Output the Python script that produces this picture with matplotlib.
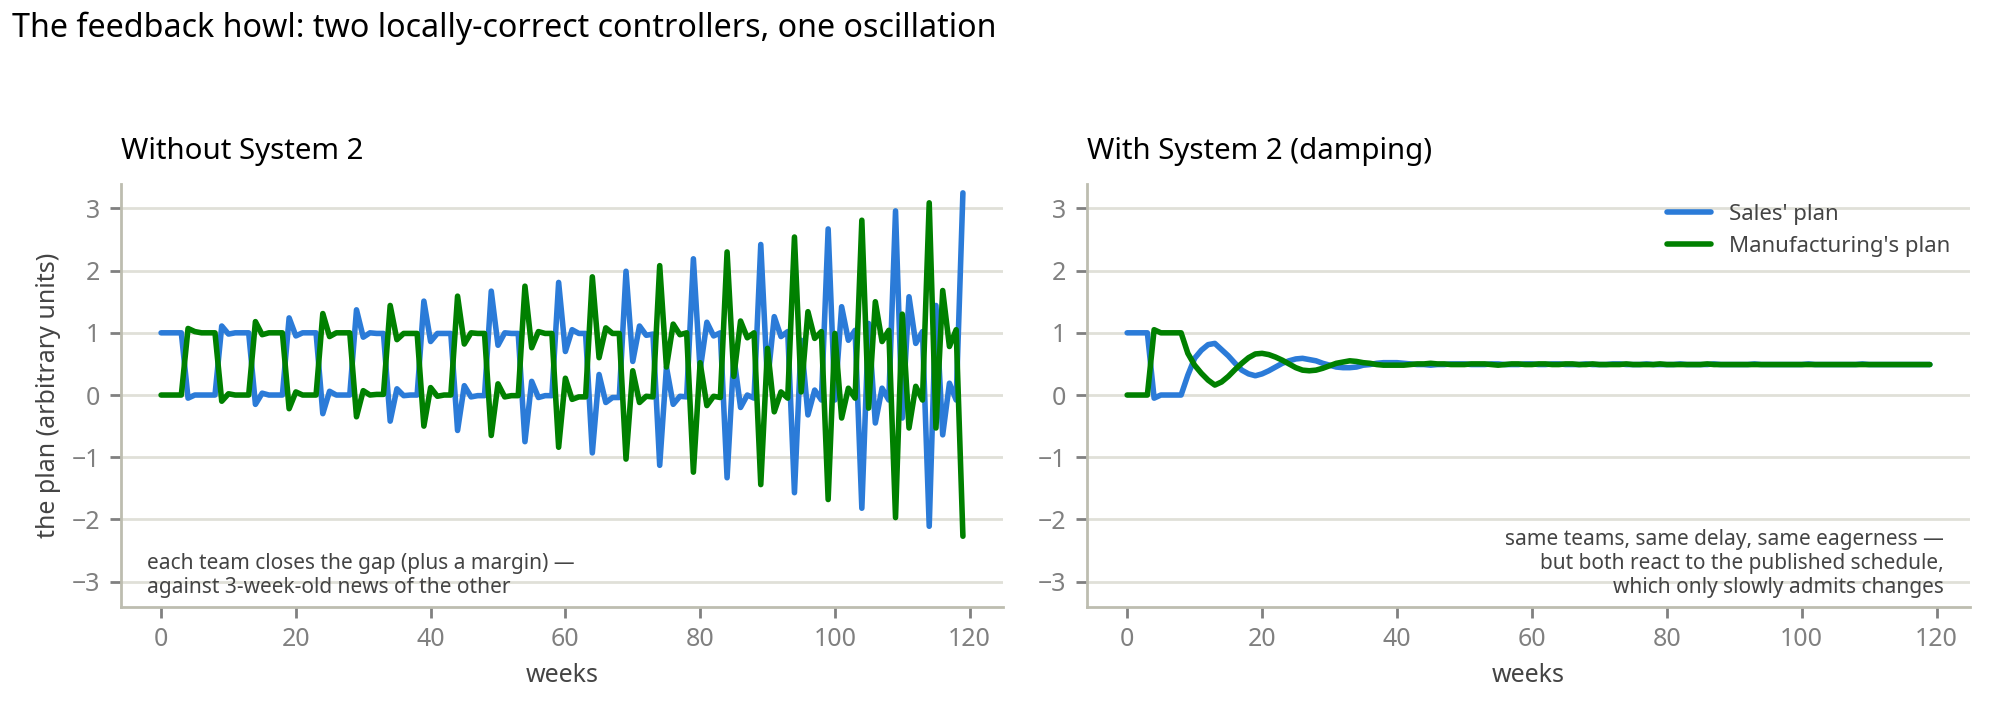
import numpy as np
import matplotlib
matplotlib.use("Agg")
import matplotlib.pyplot as plt

plt.rcParams['font.family'] = ['Noto Sans', 'DejaVu Sans']

# weeks 0..119
weeks = np.arange(120)

# Without System 2
salesA = [1.00, 1.00, 1.00, 1.00,
          -0.05, 0.00, 0.00, 0.00, 0.00,
          1.11, 0.98, 1.00, 1.00, 1.00,
          -0.15, 0.03, 0.00, 0.00, 0.00,
          1.24, 0.95, 1.00, 1.00, 1.00,
          -0.30, 0.06, 0.00, 0.00, 0.00,
          1.37, 0.93, 1.00, 0.99, 0.99,
          -0.42, 0.10, -0.01, 0.00, 0.00,
          1.51, 0.86, 0.99, 0.99, 0.99,
          -0.57, 0.15, -0.03, -0.01, -0.01,
          1.67, 0.80, 1.00, 0.99, 0.99,
          -0.75, 0.22, -0.04, -0.01, -0.01,
          1.81, 0.70, 1.05, 0.99, 0.99,
          -0.93, 0.33, -0.12, -0.04, -0.04,
          1.99, 0.54, 1.11, 0.96, 0.98,
          -1.13, 0.45, -0.15, -0.02, -0.03,
          2.19, 0.40, 1.17, 0.95, 1.00,
          -1.33, 0.62, -0.20, 0.00, -0.05,
          2.42, 0.20, 1.26, 0.94, 1.02,
          -1.57, 0.88, -0.32, 0.08, -0.08,
          2.67, -0.08, 1.42, 0.88, 1.04,
          -1.82, 1.15, -0.45, 0.11, -0.08,
          2.96, -0.37, 1.58, 0.83, 1.02,
          -2.11, 1.44, -0.64, 0.19, -0.08,
          3.25]

manufA = [0.00, 0.00, 0.00, 0.00,
          1.07, 1.02, 1.00, 1.00, 1.00,
          -0.10, 0.02, 0.00, 0.00, 0.00,
          1.18, 0.97, 1.00, 1.00, 1.00,
          -0.22, 0.05, 0.00, 0.00, 0.00,
          1.31, 0.94, 1.00, 1.00, 1.00,
          -0.35, 0.07, 0.00, 0.01, 0.01,
          1.44, 0.89, 0.99, 0.99, 0.99,
          -0.50, 0.12, -0.02, 0.00, 0.00,
          1.59, 0.82, 1.00, 0.99, 0.99,
          -0.65, 0.18, -0.03, -0.01, -0.01,
          1.75, 0.76, 1.02, 0.99, 0.99,
          -0.84, 0.27, -0.07, -0.03, -0.03,
          1.90, 0.60, 1.08, 0.99, 0.99,
          -1.03, 0.39, -0.12, -0.02, -0.03,
          2.08, 0.45, 1.14, 0.97, 1.00,
          -1.24, 0.52, -0.17, -0.02, -0.04,
          2.30, 0.30, 1.19, 0.92, 1.00,
          -1.44, 0.75, -0.27, 0.05, -0.05,
          2.54, 0.05, 1.34, 0.91, 1.02,
          -1.68, 0.99, -0.37, 0.11, -0.05,
          2.81, -0.21, 1.50, 0.86, 1.04,
          -1.97, 1.30, -0.53, 0.14, -0.08,
          3.09, -0.53, 1.68, 0.78, 1.05,
          -2.27]

# With System 2 (damping)
salesB = [1.00, 1.00, 1.00, 1.00, -0.05, 0.00, 0.00, 0.00, 0.00,
          0.32, 0.59, 0.72, 0.81, 0.83, 0.73, 0.63, 0.51, 0.40, 0.34, 0.31,
          0.34, 0.39, 0.45, 0.51, 0.55, 0.58, 0.59, 0.57, 0.55, 0.51,
          0.48, 0.45, 0.44, 0.44, 0.45, 0.48, 0.49, 0.51, 0.52, 0.52,
          0.52, 0.51, 0.50,
          0.49, 0.49, 0.48, 0.49, 0.49, 0.50, 0.50, 0.50, 0.49, 0.49,
          0.49, 0.50, 0.50, 0.49, 0.49, 0.49, 0.50, 0.50, 0.49, 0.49,
          0.50, 0.50, 0.49, 0.49, 0.49, 0.50, 0.49, 0.49, 0.49, 0.50,
          0.50, 0.49, 0.49, 0.49, 0.50, 0.49, 0.49, 0.49, 0.49, 0.50,
          0.49, 0.49, 0.49, 0.49, 0.50, 0.49, 0.49, 0.49, 0.49, 0.49,
          0.50, 0.49, 0.49, 0.49, 0.49, 0.49, 0.49, 0.49, 0.50, 0.49,
          0.49, 0.49, 0.49, 0.49, 0.49, 0.49, 0.50, 0.49, 0.49, 0.49,
          0.49, 0.49, 0.49, 0.49, 0.49, 0.49, 0.49]

manufB = [0.00, 0.00, 0.00, 0.00, 1.05, 1.00, 1.00, 1.00, 1.00,
          0.67, 0.48, 0.35, 0.24, 0.16, 0.21, 0.30, 0.41, 0.51, 0.60, 0.66,
          0.67, 0.65, 0.61, 0.56, 0.50, 0.44, 0.40, 0.39, 0.40, 0.43,
          0.47, 0.51, 0.53, 0.55, 0.54, 0.52, 0.51, 0.49, 0.48, 0.48,
          0.48, 0.48, 0.49,
          0.50, 0.50, 0.51, 0.50, 0.50, 0.49, 0.49, 0.49, 0.50, 0.50,
          0.50, 0.49, 0.48, 0.49, 0.50, 0.50, 0.49, 0.49, 0.50, 0.50,
          0.49, 0.49, 0.50, 0.50, 0.49, 0.49, 0.50, 0.49, 0.49, 0.49,
          0.49, 0.50, 0.49, 0.49, 0.49, 0.49, 0.50, 0.49, 0.49, 0.49,
          0.49, 0.49, 0.49, 0.50, 0.49, 0.49, 0.49, 0.49, 0.49, 0.49,
          0.49, 0.49, 0.49, 0.49, 0.49, 0.49, 0.49, 0.49, 0.49, 0.49,
          0.49, 0.49, 0.49, 0.49, 0.49, 0.49, 0.49, 0.49, 0.49, 0.49,
          0.49, 0.49, 0.49, 0.49, 0.49, 0.49, 0.49]

blue = '#2b7bd8'
green = '#008000'
gridC = '#e0e0d8'
spineC = '#bdbdb0'
tickC = '#808080'
textC = '#444444'

fig = plt.figure(figsize=(10, 3.6), dpi=200)
ax1 = fig.add_axes([0.0605, 0.1576, 0.441, 0.5875])
ax2 = fig.add_axes([0.5435, 0.1576, 0.4415, 0.5875])

for ax, s, m in [(ax1, salesA, manufA), (ax2, salesB, manufB)]:
    ax.plot(weeks, s, color=blue, lw=2.0, label="Sales' plan",
            solid_capstyle='round', solid_joinstyle='round')
    ax.plot(weeks, m, color=green, lw=2.0, label="Manufacturing's plan",
            solid_capstyle='round', solid_joinstyle='round')
    ax.set_ylim(-3.4, 3.4)
    ax.set_yticks([-3, -2, -1, 0, 1, 2, 3])
    ax.set_xticks([0, 20, 40, 60, 80, 100, 120])
    ax.grid(axis='y', color=gridC, lw=1.0)
    ax.set_axisbelow(True)
    for sp in ['top', 'right']:
        ax.spines[sp].set_visible(False)
    for sp in ['left', 'bottom']:
        ax.spines[sp].set_color(spineC)
        ax.spines[sp].set_linewidth(1.0)
    ax.tick_params(colors=tickC, labelsize=9, length=4, width=1.0)
    ax.set_xlabel('weeks', fontsize=9, color=textC)

ax1.set_ylabel('the plan (arbitrary units)', fontsize=9, color=textC)
ax1.set_title('Without System 2', loc='left', fontsize=10.6, pad=9)
ax2.set_title('With System 2 (damping)', loc='left', fontsize=10.6, pad=9)

ax1.text(0.03, 0.02, 'each team closes the gap (plus a margin) \u2014\nagainst 3-week-old news of the other',
         transform=ax1.transAxes, ha='left', va='bottom', fontsize=7.5, color=textC)
ax2.text(0.97, 0.02, 'same teams, same delay, same eagerness \u2014\nbut both react to the published schedule,\nwhich only slowly admits changes',
         transform=ax2.transAxes, ha='right', va='bottom', fontsize=7.5, color=textC, multialignment='right')

leg = ax2.legend(loc='upper right', frameon=False, fontsize=8, labelcolor=textC)

fig.text(0.006, 0.961, 'The feedback howl: two locally-correct controllers, one oscillation',
         ha='left', va='center', fontsize=11.6)

fig.savefig('out.png', dpi=200)
